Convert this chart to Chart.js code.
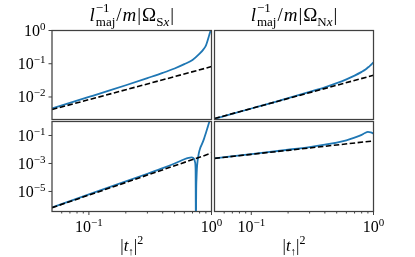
<!DOCTYPE html>
<html>
<head>
<meta charset="utf-8">
<script src="https://cdn.jsdelivr.net/npm/chart.js@4.4.0/dist/chart.umd.min.js"></script>
<style>
  html, body { margin: 0; padding: 0; background: #fff; }
  #wrap { position: relative; width: 415px; height: 257px; background: #fff; }
  #wrap canvas { position: absolute; left: 0; top: 0; }
</style>
</head>
<body>
<div id="wrap">
  <canvas id="cTL" width="415" height="257"></canvas>
  <canvas id="cTR" width="415" height="257"></canvas>
  <canvas id="cBL" width="415" height="257"></canvas>
  <canvas id="cBR" width="415" height="257"></canvas>
</div>
<script>
// |t_up|^2 sample points and curves
const tSxTop = [0.05, 0.1, 0.15, 0.2, 0.3, 0.4, 0.5, 0.6, 0.7, 0.8, 0.86, 0.9, 0.93, 0.96, 0.98, 1.0];
const sxTop  = [0.0045, 0.0100, 0.0160, 0.0225, 0.037, 0.053, 0.072, 0.097, 0.13, 0.20, 0.27, 0.35, 0.5, 0.75, 0.95, 1.2];

const tNxTop = [0.05, 0.1, 0.15, 0.2, 0.3, 0.4, 0.5, 0.6, 0.7, 0.8, 0.86, 0.9, 0.93, 0.96, 0.98, 1.0];
const nxTop  = [0.0022, 0.0045, 0.0068, 0.0092, 0.0142, 0.0195, 0.026, 0.034, 0.044, 0.057, 0.067, 0.077, 0.085, 0.095, 0.102, 0.11];

const tSxBot = [0.05, 0.1, 0.2, 0.3, 0.4, 0.5, 0.6, 0.65, 0.69, 0.72, 0.735, 0.742, 0.746, 0.75, 0.755, 0.76, 0.77, 0.79, 0.81, 0.834, 0.87, 0.9, 0.93, 0.96, 0.99];
const sxBot  = [7.2e-7, 6.2e-6, 5.2e-5, 1.85e-4, 4.6e-4, 1.0e-3, 2.0e-3, 2.5e-3, 2.7e-3, 2.2e-3, 1.2e-3, 3e-4, 1e-8, 1e-5, 1e-4, 4e-4, 1.5e-3, 6e-3, 1.3e-2, 2.3e-2, 6e-2, 0.15, 0.38, 0.95, 2.0];

const tNxBot = [0.05, 0.1, 0.2, 0.3, 0.4, 0.5, 0.6, 0.7, 0.8, 0.85, 0.9, 0.95, 1.0];
const nxBot  = [0.0023, 0.0047, 0.0096, 0.015, 0.022, 0.031, 0.045, 0.070, 0.11, 0.15, 0.18, 0.165, 0.14];

// dashed reference lines
const tRef     = [0.05, 0.1, 0.2, 0.5, 1.0];
const refSxTop = [0.0042, 0.0083, 0.0165, 0.041, 0.082];
const refNxTop = [0.00225, 0.0045, 0.009, 0.0225, 0.045];
const refSxBot = [6.9e-7, 5.5e-6, 4.4e-5, 6.9e-4, 5.5e-3];
const refNxBot = [0.0023, 0.0045, 0.0087, 0.021, 0.041];

// ticks
const xMajor = [0.1, 1];
const xMinor = [0.06, 0.07, 0.08, 0.09, 0.2, 0.3, 0.4, 0.5, 0.6, 0.7, 0.8, 0.9];
const yTicksTop = [1, 0.1, 0.01];
const yExpTop = ['0', '−1', '−2'];
const yTicksBot = [0.1, 1e-3, 1e-5];
const yExpBot = ['−1', '−3', '−5'];

const W = 415, H = 257;
const FONT = '"Liberation Serif", "DejaVu Serif", serif';
const BLUE = '#1f77b4';
const AXIS = '#404040';

const pts = (xs, ys) => xs.map((x, i) => ({ x: x, y: ys[i] }));

// rich text: parts with size, italic, vertical shift; "stack" puts the next part at the same x
const fontOf = p => (p.i ? 'italic ' : '') + p.s + 'px ' + FONT;
function layoutRich(ctx, parts) {
    let x = 0;
    const items = [];
    for (let i = 0; i < parts.length; i++) {
        const p = parts[i];
        ctx.font = fontOf(p);
        const w = ctx.measureText(p.t).width;
        items.push({ p: p, x: x });
        if (p.stack) {
            const q = parts[i + 1];
            ctx.font = fontOf(q);
            const w2 = ctx.measureText(q.t).width;
            items.push({ p: q, x: x });
            x += Math.max(w, w2) + (q.g || 0);
            i++;
        } else {
            x += w + (p.g || 0);
        }
    }
    return { items: items, width: x };
}
function drawRich(ctx, parts, x, y, align) {
    const lay = layoutRich(ctx, parts);
    let x0 = x;
    if (align === 'center') x0 = x - lay.width / 2;
    if (align === 'right') x0 = x - lay.width;
    ctx.fillStyle = '#000';
    ctx.textBaseline = 'alphabetic';
    ctx.textAlign = 'left';
    lay.items.forEach(it => {
        ctx.font = fontOf(it.p);
        ctx.fillText(it.p.t, x0 + it.x, y + (it.p.dy || 0));
    });
}
const powParts = e => [{ t: '10', s: 16 }, { t: e, s: 11, dy: -6 }];

const titleParts = (sub) => [
    { t: 'l', i: 1, s: 19, g: 1 },
    { t: '−1', s: 13, dy: -9, stack: true },
    { t: 'maj', s: 13, dy: 5, g: 1 },
    { t: '/', s: 19, g: 1 },
    { t: 'm', i: 1, s: 19, g: 1 },
    { t: '|', s: 19, g: 1 },
    { t: 'Ω', s: 19 },
    { t: sub, s: 13, dy: 5 },
    { t: 'x', i: 1, s: 13, dy: 5, g: 1 },
    { t: '|', s: 19 }
];
const xlabelParts = [
    { t: '|', s: 17 },
    { t: 't', i: 1, s: 17 },
    { t: '↑', s: 11, dy: 4 },
    { t: '|', s: 17 },
    { t: '2', s: 12, dy: -7 }
];

// frame, ticks, tick labels, title and x label of one panel
const panelDecor = {
    id: 'panelDecor',
    afterDatasetsDraw(chart, args, o) {
        const { ctx, chartArea: a, scales: { x, y } } = chart;
        ctx.save();
        ctx.strokeStyle = AXIS;
        ctx.lineWidth = 1.25;
        ctx.strokeRect(a.left, a.top, a.right - a.left, a.bottom - a.top);

        if (o.xLabels) {
            ctx.lineWidth = 1;
            xMajor.concat(xMinor).forEach(v => {
                const px = x.getPixelForValue(v);
                const len = xMajor.includes(v) ? 3.5 : 2;
                ctx.beginPath();
                ctx.moveTo(px, a.bottom);
                ctx.lineTo(px, a.bottom + len);
                ctx.stroke();
            });
            drawRich(ctx, powParts('−1'), x.getPixelForValue(0.1), 231.5, 'center');
            drawRich(ctx, powParts('0'), x.getPixelForValue(1), 231.5, 'center');
            drawRich(ctx, xlabelParts, (a.left + a.right) / 2, 251, 'center');
        }
        if (o.yTicks) {
            ctx.lineWidth = 1;
            o.yTicks.forEach((v, i) => {
                const py = y.getPixelForValue(v);
                ctx.beginPath();
                ctx.moveTo(a.left, py);
                ctx.lineTo(a.left - 3.5, py);
                ctx.stroke();
                drawRich(ctx, powParts(o.yExp[i]), 45.5, py + 5.5, 'right');
            });
        }
        if (o.title) {
            drawRich(ctx, titleParts(o.title), (a.left + a.right) / 2, 20.5, 'center');
        }
        ctx.restore();
    }
};

function makePanel(id, area, yMin, blueX, blueY, refY, decor) {
    new Chart(document.getElementById(id), {
        type: 'line',
        data: {
            datasets: [
                {
                    data: pts(tRef, refY),
                    borderColor: '#000',
                    borderWidth: 1.6,
                    borderDash: [5.5, 2.5],
                    pointRadius: 0,
                    fill: false
                },
                {
                    data: pts(blueX, blueY),
                    borderColor: BLUE,
                    borderWidth: 1.8,
                    pointRadius: 0,
                    fill: false,
                    cubicInterpolationMode: 'monotone'
                }
            ]
        },
        options: {
            responsive: false,
            animation: false,
            events: [],
            layout: {
                padding: { left: area.l, top: area.t, right: W - area.r, bottom: H - area.b }
            },
            plugins: {
                legend: { display: false },
                tooltip: { enabled: false },
                panelDecor: decor
            },
            scales: {
                x: { type: 'logarithmic', min: 0.05, max: 1, display: false },
                y: { type: 'logarithmic', min: yMin, max: 1, display: false }
            }
        },
        plugins: [panelDecor]
    });
}

const colL = { l: 52, r: 211.5 }, colR = { l: 214.5, r: 373.5 };
const rowT = { t: 30.5, b: 119.5 }, rowB = { t: 121.5, b: 211.5 };

makePanel('cTL', { l: colL.l, r: colL.r, t: rowT.t, b: rowT.b }, 0.0021, tSxTop, sxTop, refSxTop,
    { title: 'S', yTicks: yTicksTop, yExp: yExpTop });
makePanel('cTR', { l: colR.l, r: colR.r, t: rowT.t, b: rowT.b }, 0.0021, tNxTop, nxTop, refNxTop,
    { title: 'N' });
makePanel('cBL', { l: colL.l, r: colL.r, t: rowB.t, b: rowB.b }, 3.7e-7, tSxBot, sxBot, refSxBot,
    { xLabels: true, yTicks: yTicksBot, yExp: yExpBot });
makePanel('cBR', { l: colR.l, r: colR.r, t: rowB.t, b: rowB.b }, 3.7e-7, tNxBot, nxBot, refNxBot,
    { xLabels: true });
</script>
</body>
</html>
